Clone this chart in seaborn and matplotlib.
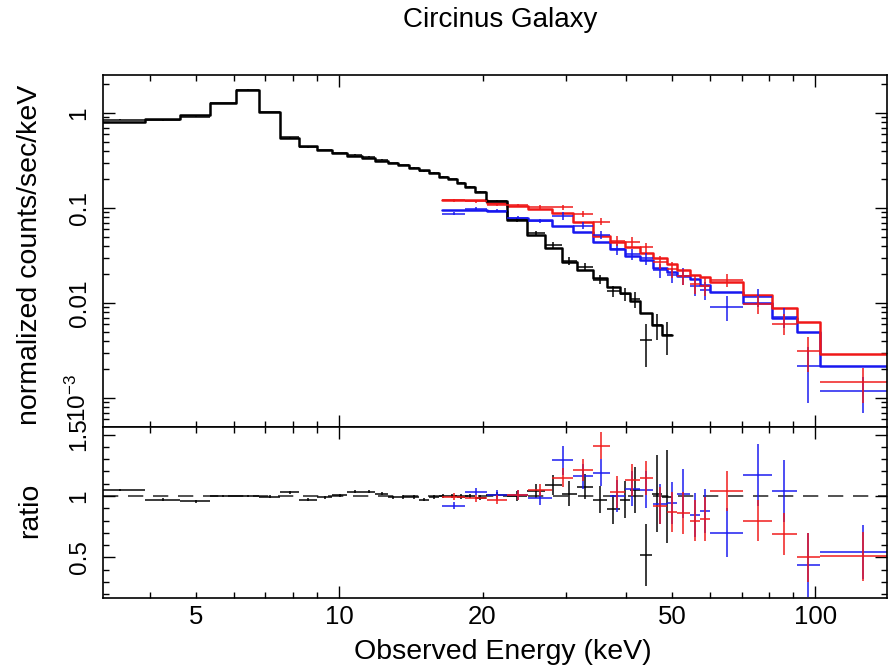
import numpy as np
import pandas as pd
import matplotlib
matplotlib.use("Agg")
import matplotlib.pyplot as plt
import seaborn as sns
from matplotlib.ticker import FixedLocator, FuncFormatter, MultipleLocator, NullFormatter

# ---------------- data ----------------
# Low-energy spectrum (black): bin edges in keV, model counts, data/model ratio and its error
black_edges = [3.0, 3.91, 4.63, 5.35, 6.07, 6.78, 7.51, 8.23, 8.98, 9.65, 10.38,
               11.16, 11.89, 12.65, 13.28, 14.01, 14.70, 15.43, 16.19, 16.91, 17.66,
               18.36, 19.27, 20.32, 22.49, 24.77, 27.03, 29.35, 31.55, 34.09, 36.48,
               38.84, 40.75, 42.77, 45.33, 47.57, 49.94]
black_model = [0.81, 0.865, 0.953, 1.265, 1.75, 1.03, 0.54, 0.45, 0.41, 0.375,
               0.352, 0.333, 0.315, 0.300, 0.284, 0.266, 0.251, 0.235, 0.213, 0.200,
               0.185, 0.168, 0.149, 0.118, 0.0747, 0.052, 0.0377, 0.0272, 0.0222, 0.0182,
               0.0149, 0.0127, 0.0104, 0.0078, 0.0058, 0.0046]
black_ratio = [1.05, 0.97, 0.955, 1.0, 1.0, 0.995, 1.03, 0.97, 0.99, 1.005,
               1.035, 1.035, 1.02, 0.99, 0.99, 0.99, 0.97, 0.99, 1.0, 1.0,
               0.995, 1.0, 0.985, 1.01, 1.0, 1.04, 1.09, 1.02, 1.076, 0.97,
               0.89, 0.97, 1.05, 0.52, 1.02, 0.995]
black_ratio_err = [0.01, 0.01, 0.01, 0.01, 0.01, 0.01, 0.01, 0.01, 0.012, 0.012,
                   0.012, 0.012, 0.013, 0.013, 0.014, 0.014, 0.015, 0.015, 0.016, 0.017,
                   0.018, 0.019, 0.02, 0.022, 0.04, 0.06, 0.08, 0.10, 0.10, 0.11,
                   0.12, 0.15, 0.19, 0.25, 0.31, 0.38]

# Hard X-ray spectra (red and blue) share one binning
hard_edges = [16.43, 18.36, 20.42, 22.49, 24.89, 27.96, 30.94, 34.08, 37.01, 39.79,
              42.77, 45.55, 48.74, 51.15, 54.47, 57.16, 60.00, 70.40, 80.98, 91.37,
              102.1, 150.0]
red_model = [0.121, 0.120, 0.112, 0.106, 0.097, 0.088, 0.072, 0.051, 0.044, 0.039,
             0.0335, 0.0295, 0.026, 0.0223, 0.0196, 0.0188, 0.0167, 0.0122, 0.0088, 0.0063,
             0.00288]
red_ratio = [0.995, 0.98, 0.97, 1.01, 1.05, 1.15, 1.21, 1.41, 1.03, 1.13,
             1.145, 0.92, 0.87, 0.86, 0.80, 0.81, 1.04, 0.80, 0.69, 0.50, 0.51]
red_ratio_err = [0.03, 0.03, 0.035, 0.04, 0.05, 0.08, 0.09, 0.11, 0.13, 0.13,
                 0.14, 0.15, 0.16, 0.17, 0.17, 0.18, 0.16, 0.17, 0.17, 0.20, 0.20]
blue_model = [0.095, 0.095, 0.093, 0.078, 0.075, 0.064, 0.056, 0.044, 0.037, 0.031,
              0.028, 0.0235, 0.021, 0.019, 0.0178, 0.0155, 0.013, 0.0099, 0.0069, 0.0049,
              0.00216]
blue_ratio = [0.92, 1.035, 1.01, 1.01, 0.98, 1.29, 1.16, 1.19, 1.00, 1.06,
              1.05, 0.935, 0.94, 1.02, 0.845, 0.88, 0.70, 1.17, 1.04, 0.44, 0.545]
blue_ratio_err = [0.03, 0.03, 0.035, 0.04, 0.05, 0.12, 0.10, 0.11, 0.13, 0.14,
                  0.15, 0.16, 0.17, 0.20, 0.18, 0.18, 0.20, 0.25, 0.25, 0.26, 0.22]

# axis labelling
x_tick_labels = [5, 10, 20, 50, 100]
flux_tick_labels = {1.0: "1", 0.1: "0.1", 0.01: "0.01", 0.001: r"$10^{-3}$"}
ratio_tick_labels = [0.5, 1.0, 1.5]

# ---------------- style ----------------
sns.set_theme(style="ticks")
plt.rcParams["font.family"] = ["Liberation Sans", "DejaVu Sans"]
plt.rcParams["mathtext.fontset"] = "custom"
plt.rcParams["mathtext.rm"] = "Liberation Sans"
plt.rcParams["mathtext.it"] = "Liberation Sans:italic"
plt.rcParams["mathtext.bf"] = "Liberation Sans:bold"
plt.rcParams["lines.scale_dashes"] = False
for key in ("text.color", "axes.labelcolor", "xtick.color", "ytick.color", "axes.edgecolor"):
    plt.rcParams[key] = "black"

BLACK, RED, BLUE = "#000000", "#f01818", "#1818f0"


def build(edges, model, ratio, err):
    edges = np.asarray(edges, float)
    model = np.asarray(model, float)
    ratio = np.asarray(ratio, float)
    err = np.asarray(err, float)
    lo, hi = edges[:-1], edges[1:]
    mid = 0.5 * (lo + hi)
    return pd.DataFrame({
        "lo": lo, "hi": hi, "mid": mid, "model": model,
        "ratio": ratio, "ratio_err": err,
        "flux": model * ratio, "flux_err": model * err,
    })


spectra = [
    ("black", build(black_edges, black_model, black_ratio, black_ratio_err), BLACK),
    ("blue", build(hard_edges, blue_model, blue_ratio, blue_ratio_err), BLUE),
    ("red", build(hard_edges, red_model, red_ratio, red_ratio_err), RED),
]

fig = plt.figure(figsize=(8.88, 6.70), dpi=100)
ax_top = fig.add_axes([0.1160, 0.3627, 0.8829, 0.5254])
ax_bot = fig.add_axes([0.1160, 0.1079, 0.8829, 0.2548], sharex=ax_top)

# model step curves
for name, df, col in [spectra[1], spectra[2], spectra[0]]:
    steps = pd.DataFrame({"E": np.append(df["lo"].values, df["hi"].values[-1]),
                          "m": np.append(df["model"].values, df["model"].values[-1])})
    sns.lineplot(data=steps, x="E", y="m", ax=ax_top, color=col, lw=1.8,
                 drawstyle="steps-post", estimator=None, legend=False)

# data crosses in both panels
for name, df, col in spectra:
    xerr = [df["mid"] - df["lo"], df["hi"] - df["mid"]]
    ax_top.errorbar(df["mid"], df["flux"], xerr=xerr, yerr=df["flux_err"],
                    fmt="none", ecolor=col, elinewidth=1.2, capsize=0, alpha=0.9)
    ax_bot.errorbar(df["mid"], df["ratio"], xerr=xerr, yerr=df["ratio_err"],
                    fmt="none", ecolor=col, elinewidth=1.2, capsize=0, alpha=0.9)

ax_bot.axhline(1.0, color="#333333", lw=1.2, dashes=(11, 7), zorder=0)

# ---------------- axes ----------------
ax_top.set_xscale("log")
ax_top.set_yscale("log")
ax_top.set_xlim(3.19, 141.5)
ax_top.set_ylim(4.95e-4, 2.51)
ax_bot.set_ylim(0.171, 1.562)

major_x = [10, 100]
minor_x = [v * d for d in (1, 10) for v in range(2, 10) if 3 <= v * d <= 150 and v * d != 10]
for ax in (ax_top, ax_bot):
    ax.xaxis.set_major_locator(FixedLocator(major_x))
    ax.xaxis.set_minor_locator(FixedLocator(minor_x))
    ax.tick_params(which="both", direction="in", top=True, right=True,
                   colors="black", width=1.0)
    ax.tick_params(which="major", length=8.6)
    ax.tick_params(which="minor", length=4.2)
    for s in ax.spines.values():
        s.set_linewidth(1.2)
        s.set_color("black")
    ax.set_xlabel("")
    ax.set_ylabel("")

ax_top.tick_params(axis="x", which="both", labelbottom=False)
ax_bot.xaxis.set_major_formatter(FuncFormatter(
    lambda v, p: f"{v:g}" if round(v) in x_tick_labels else ""))
ax_bot.xaxis.set_minor_formatter(FuncFormatter(
    lambda v, p: f"{v:g}" if round(v) in x_tick_labels else ""))
ax_bot.tick_params(axis="x", which="both", labelsize=18.5, pad=5)

flux_major = sorted(flux_tick_labels)
flux_minor = [v * 10.0 ** e for e in range(-4, 1) for v in range(2, 10)]
ax_top.yaxis.set_major_locator(FixedLocator(flux_major))
ax_top.yaxis.set_minor_locator(FixedLocator(flux_minor))
ax_top.yaxis.set_major_formatter(FuncFormatter(
    lambda v, p: min(flux_tick_labels.items(), key=lambda kv: abs(np.log10(kv[0]) - np.log10(v)))[1]))
ax_top.yaxis.set_minor_formatter(NullFormatter())

ax_bot.yaxis.set_major_locator(FixedLocator(ratio_tick_labels))
ax_bot.yaxis.set_minor_locator(MultipleLocator(0.1))
ax_bot.yaxis.set_major_formatter(FuncFormatter(lambda v, p: f"{v:g}"))

for ax in (ax_top, ax_bot):
    ax.tick_params(axis="y", labelsize=17.5, pad=9)
    for lab in ax.get_yticklabels():
        lab.set_rotation(90)
        lab.set_va("center")

fig.text(500 / 888, 1 - 20 / 670, "Circinus Galaxy", ha="center", va="center", fontsize=20)
fig.text(30 / 888, 1 - 255 / 670, "normalized counts/sec/keV", rotation=90,
         ha="center", va="center", fontsize=20.5)
fig.text(30 / 888, 1 - 510 / 670, "ratio", rotation=90, ha="center", va="center", fontsize=20.5)
fig.text(503 / 888, 1 - 652 / 670, "Observed Energy (keV)", ha="center", va="center", fontsize=20.5)

fig.savefig("out.png", dpi=100)
